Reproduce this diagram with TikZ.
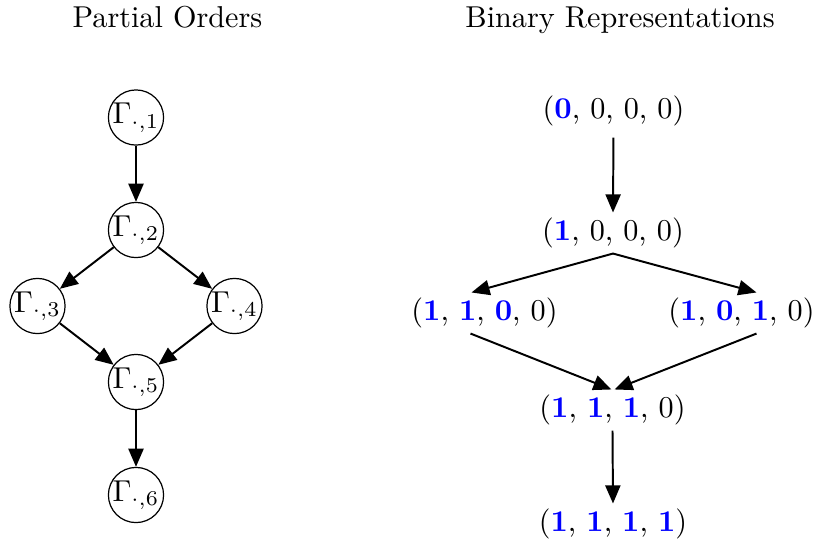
\documentclass[tikz,border=0pt]{standalone}
\usetikzlibrary{arrows.meta}
\newcommand{\blu}[1]{\textcolor{blue}{\textbf{#1}}}
\begin{document}
\begin{tikzpicture}[x=0.3311pt,y=-0.3311pt,
  gam/.style={circle, draw, line width=0.4pt, inner sep=0pt, minimum size=18.2pt},
  tup/.style={inner sep=1.6pt},
  ttl/.style={anchor=base},
  arr/.style={-{Triangle[length=6pt,width=5pt]}, line width=0.65pt}]
\useasboundingbox (0,0) rectangle (815,543);
% titles
\node[ttl] (t1) at (167.5,27) {Partial Orders};
\node[ttl] (t2) at (620,27) {Binary Representations};
% left: partial orders
\node[gam] (g1) at (136,117.5) {$\Gamma_{\cdot,1}$};
\node[gam] (g2) at (136,230) {$\Gamma_{\cdot,2}$};
\node[gam] (g3) at (37.5,306) {$\Gamma_{\cdot,3}$};
\node[gam] (g4) at (234.5,306) {$\Gamma_{\cdot,4}$};
\node[gam] (g5) at (136,382) {$\Gamma_{\cdot,5}$};
\node[gam] (g6) at (136,495) {$\Gamma_{\cdot,6}$};
\draw[arr] (g1) -- (g2);
\draw[arr] (g2) -- (g3);
\draw[arr] (g2) -- (g4);
\draw[arr] (g3) -- (g5);
\draw[arr] (g4) -- (g5);
\draw[arr] (g5) -- (g6);
% right: binary representations
\node[tup] (a) at (613.5,111) {(\blu{0}, 0, 0, 0)};
\node[tup] (b) at (613,233) {(\blu{1}, 0, 0, 0)};
\node[tup] (c) at (484.5,313) {(\blu{1}, \blu{1}, \blu{0}, 0)};
\node[tup] (d) at (741.5,313) {(\blu{1}, \blu{0}, \blu{1}, 0)};
\node[tup] (e) at (612.5,410) {(\blu{1}, \blu{1}, \blu{1}, 0)};
\node[tup] (f) at (613,524) {(\blu{1}, \blu{1}, \blu{1}, \blu{1})};
\draw[arr, shorten <=2pt] (a.south) -- (b.north);
\draw[arr] (b.south) -- ([xshift=-13*0.3311pt]c.north);
\draw[arr] (b.south) -- ([xshift=15*0.3311pt]d.north);
\draw[arr] ([xshift=-14*0.3311pt]c.south) -- ([xshift=-1*0.3311pt]e.north);
\draw[arr] ([xshift=15*0.3311pt]d.south) -- ([xshift=2*0.3311pt]e.north);
\draw[arr] (e.south) -- (f.north);
\end{tikzpicture}
\end{document}
